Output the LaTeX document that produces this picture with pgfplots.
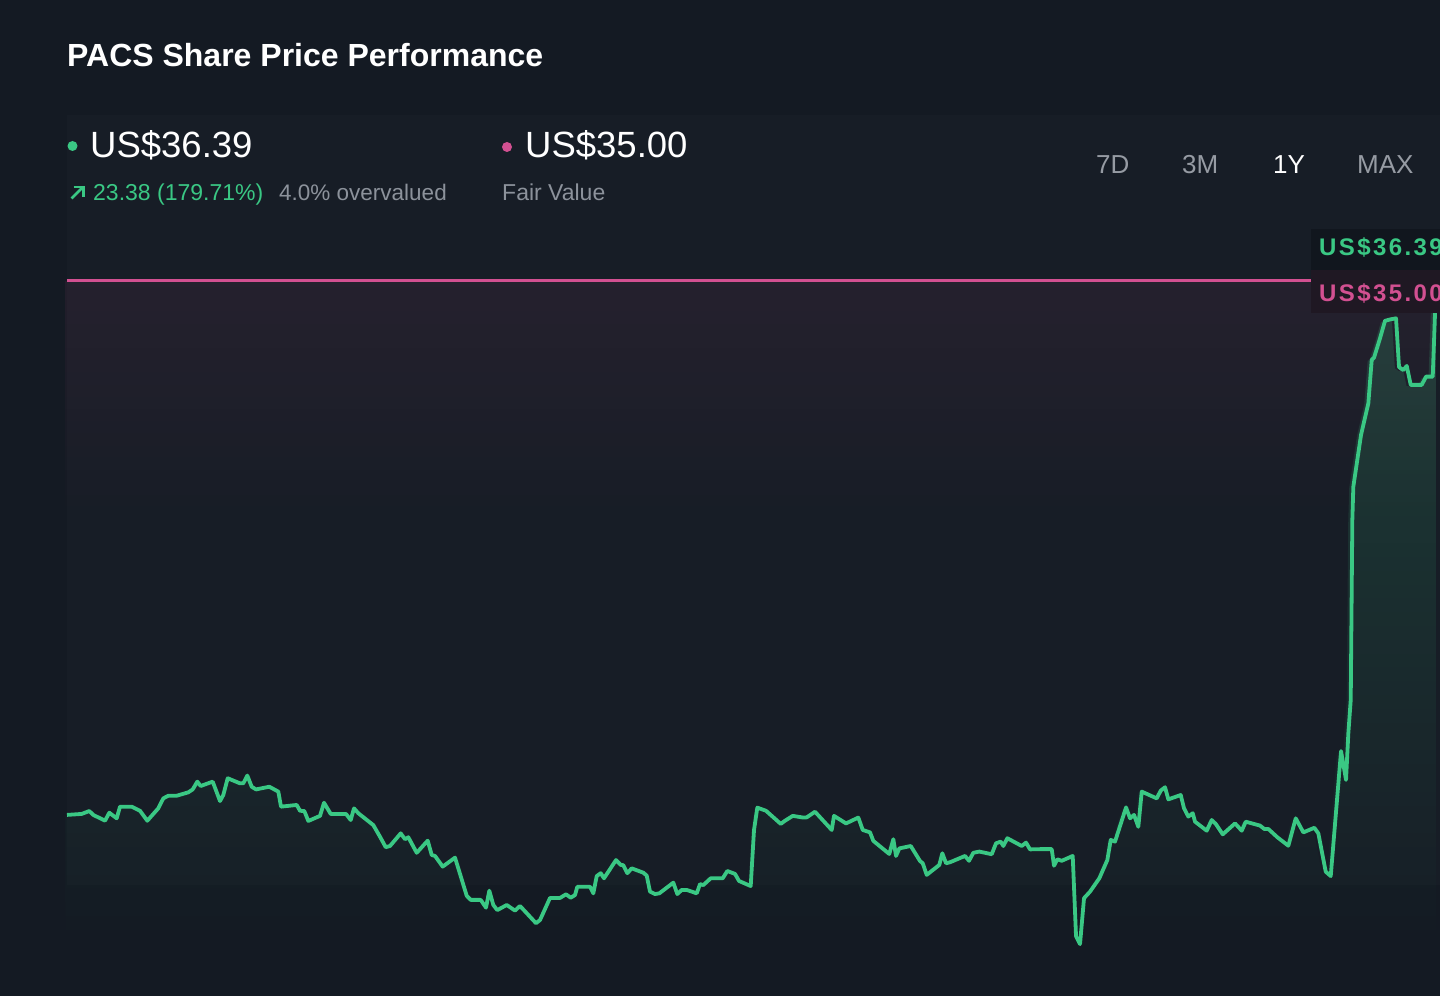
\documentclass[border=0pt]{standalone}
\usepackage{pgfplots}
\pgfplotsset{compat=1.18}
\usepackage{pgfplotstable}
\usetikzlibrary{fadings}
\usepackage{fontspec}
\setmainfont{Liberation Sans}
\definecolor{bgc}{RGB}{20,26,35}
\definecolor{panelc}{RGB}{23,29,38}
\definecolor{greenc}{RGB}{58,200,132}
\definecolor{pinkc}{RGB}{210,80,145}
\definecolor{greyc}{RGB}{140,146,155}
\definecolor{tabc}{RGB}{150,155,163}
\definecolor{gboxc}{RGB}{17,22,30}
\definecolor{pboxc}{RGB}{31,24,35}

\pgfplotstableread{
x p
0 13.01
14.7 13.05
22.3 13.17
26.3 13.01
38 12.77
42.3 13.10
49.7 12.87
53 13.35
64.7 13.35
73 13.18
80.3 12.77
91.3 13.28
96.3 13.69
101.3 13.80
109.7 13.80
121.3 13.94
125.7 14.06
130.3 14.38
133.7 14.20
145.7 14.38
153 13.58
156.3 13.83
160.7 14.52
173 14.31
176.3 14.31
180.3 14.63
184.7 14.17
189 14.06
202.3 14.17
211.3 13.97
214 13.35
229.7 13.42
233 13.18
237.3 13.17
241.3 12.76
253 12.97
257 13.51
263.7 13.05
279 13.05
283.7 12.80
287 13.28
291.3 13.08
306.3 12.59
313 12.11
318.7 11.68
323 11.73
333.7 12.25
338 12.01
341.3 12.09
349.7 11.45
360.7 11.95
364.7 11.36
368 11.32
375.7 10.88
388 11.25
399.7 9.68
403.7 9.51
413.7 9.51
419 9.19
422.3 9.89
426.3 9.30
430.3 9.09
439.7 9.30
448 9.07
453 9.26
469 8.55
473 8.68
483 9.59
493 9.59
499 9.74
503.7 9.60
508 9.71
510.3 10.05
523 10.05
526.3 9.78
529.7 10.49
533.7 10.61
537 10.40
549 11.15
553.7 10.95
556.3 10.94
560.3 10.61
564.7 10.81
576.3 10.63
579.7 10.51
583 9.85
588 9.75
592.3 9.78
606.3 10.22
610.3 9.75
614.7 9.92
619.7 9.92
629.7 9.78
633 10.16
636.3 10.12
643.7 10.40
655.7 10.40
660.3 10.70
668 10.58
672 10.29
683.7 10.08
687 12.39
690.3 13.31
699 13.18
713.7 12.64
718 12.77
725.7 12.97
736.3 12.90
739.7 12.91
748 13.14
764.7 12.39
767 12.97
779 12.66
791.3 12.90
795.7 12.39
803 12.29
806.3 11.94
822.3 11.40
826.3 12.01
829 11.32
832.3 11.63
843.7 11.73
853 11.11
855.7 11.02
859.7 10.54
872.3 10.95
875.3 11.43
879 11.02
883 11.06
898 11.32
902 11.12
906.3 11.45
912.3 11.50
924.7 11.39
929 11.84
933.7 11.91
936.3 11.73
940.3 12.05
954.7 11.73
959 11.87
963 11.59
973 11.60
984.7 11.60
987 10.92
990.3 11.18
994.7 11.12
1005.7 11.32
1009 8.02
1013 7.69
1017 9.58
1023 9.85
1032.3 10.40
1040.3 11.15
1043.7 11.98
1048 11.91
1059 13.32
1063 12.87
1067 13.01
1071.3 12.52
1074.7 13.97
1089.7 13.69
1093.7 14.01
1098 14.15
1101.3 13.65
1113.7 13.83
1117 13.28
1121.3 12.94
1125.7 13.08
1128 12.73
1139.7 12.36
1144.7 12.80
1148.7 12.64
1155.7 12.21
1168 12.66
1174.7 12.36
1178.7 12.73
1193 12.57
1197.3 12.43
1201.3 12.43
1210.3 12.09
1221.3 11.74
1228.7 12.87
1236.3 12.29
1247.3 12.48
1251.3 12.25
1258.7 10.67
1263.7 10.49
1274 15.64
1279 14.45
1281.3 16.37
1283.7 17.74
1285.3 25.16
1286.3 26.53
1294 28.66
1301.3 29.96
1304.7 31.75
1307 31.84
1313 32.64
1318 33.36
1323.7 33.42
1329 33.46
1332 31.45
1336.3 31.33
1339.7 31.50
1343.7 30.72
1354.7 30.72
1359 31.06
1365.7 31.06
1368 33.67
1373 36.39
}\pricedata

\begin{document}
\begin{tikzpicture}[x=1bp,y=1bp]
\useasboundingbox (0,0) rectangle (1440,996);
\fill[bgc] (0,0) rectangle (1440,996);
\fill[panelc] (67,111) rectangle (1440,881);

\begin{axis}[at={(67bp,47.3bp)}, anchor=south west,
  width=1373bp, height=837.7bp, scale only axis,
  xmin=0, xmax=1373, ymin=7.5, ymax=42,
  hide axis, clip=false]
  \fill[pinkc, fill opacity=0.08, path fading=south]
    (axis cs:0,35) rectangle (axis cs:1373,25);
  \addplot[draw=none, fill=greenc, fill opacity=0.2, path fading=south]
    table[x=x, y=p] {\pricedata} \closedcycle;
  \addplot[pinkc, line width=3bp] coordinates {(0,35) (1244,35)};
  \addplot[greenc, line width=3.8bp, line join=round] table[x=x, y=p] {\pricedata};
\end{axis}

% right-hand value labels
\fill[gboxc] (1311,726) rectangle (1445,767);
\fill[pboxc] (1311,683) rectangle (1445,726);
\node[anchor=base west, inner sep=0, text=greenc,
  font={\fontsize{24bp}{28bp}\selectfont\bfseries\addfontfeature{LetterSpace=10}}]
  at (1319,740) {US\$36.39};
\node[anchor=base west, inner sep=0, text=pinkc,
  font={\fontsize{24bp}{28bp}\selectfont\bfseries\addfontfeature{LetterSpace=10}}]
  at (1319,694) {US\$35.00};

% header
\node[anchor=base west, inner sep=0, text=white,
  font={\fontsize{32bp}{36bp}\selectfont\bfseries}]
  at (67,929) {PACS Share Price Performance};

\fill[greenc] (72.5,850) circle (5);
\node[anchor=base west, inner sep=0, text=white,
  font={\fontsize{36.5bp}{40bp}\selectfont}] at (90,838) {US\$36.39};
\fill[pinkc] (507,849) circle (5);
\node[anchor=base west, inner sep=0, text=white,
  font={\fontsize{36.5bp}{40bp}\selectfont}] at (525,838) {US\$35.00};

\draw[greenc, line width=2.6bp] (71.5,797.5) -- (82.5,808.5);
\draw[greenc, line width=2.6bp, line cap=butt] (73.5,809) -- (83.5,809) -- (83.5,799);
\node[anchor=base west, inner sep=0, text=greenc,
  font={\fontsize{23bp}{27bp}\selectfont}] at (93,795) {23.38 (179.71\%)};
\node[anchor=base west, inner sep=0, text=greyc,
  font={\fontsize{22.5bp}{27bp}\selectfont}] at (279,795) {4.0\% overvalued};
\node[anchor=base west, inner sep=0, text=greyc,
  font={\fontsize{23bp}{27bp}\selectfont}] at (502,795) {Fair Value};

\node[anchor=base west, inner sep=0, text=tabc,
  font={\fontsize{26bp}{30bp}\selectfont}] at (1096,822) {7D};
\node[anchor=base west, inner sep=0, text=tabc,
  font={\fontsize{26bp}{30bp}\selectfont}] at (1182,822) {3M};
\node[anchor=base west, inner sep=0, text=white,
  font={\fontsize{26bp}{30bp}\selectfont}] at (1273,822) {1Y};
\node[anchor=base west, inner sep=0, text=tabc,
  font={\fontsize{26bp}{30bp}\selectfont}] at (1357,822) {MAX};
\end{tikzpicture}
\end{document}
